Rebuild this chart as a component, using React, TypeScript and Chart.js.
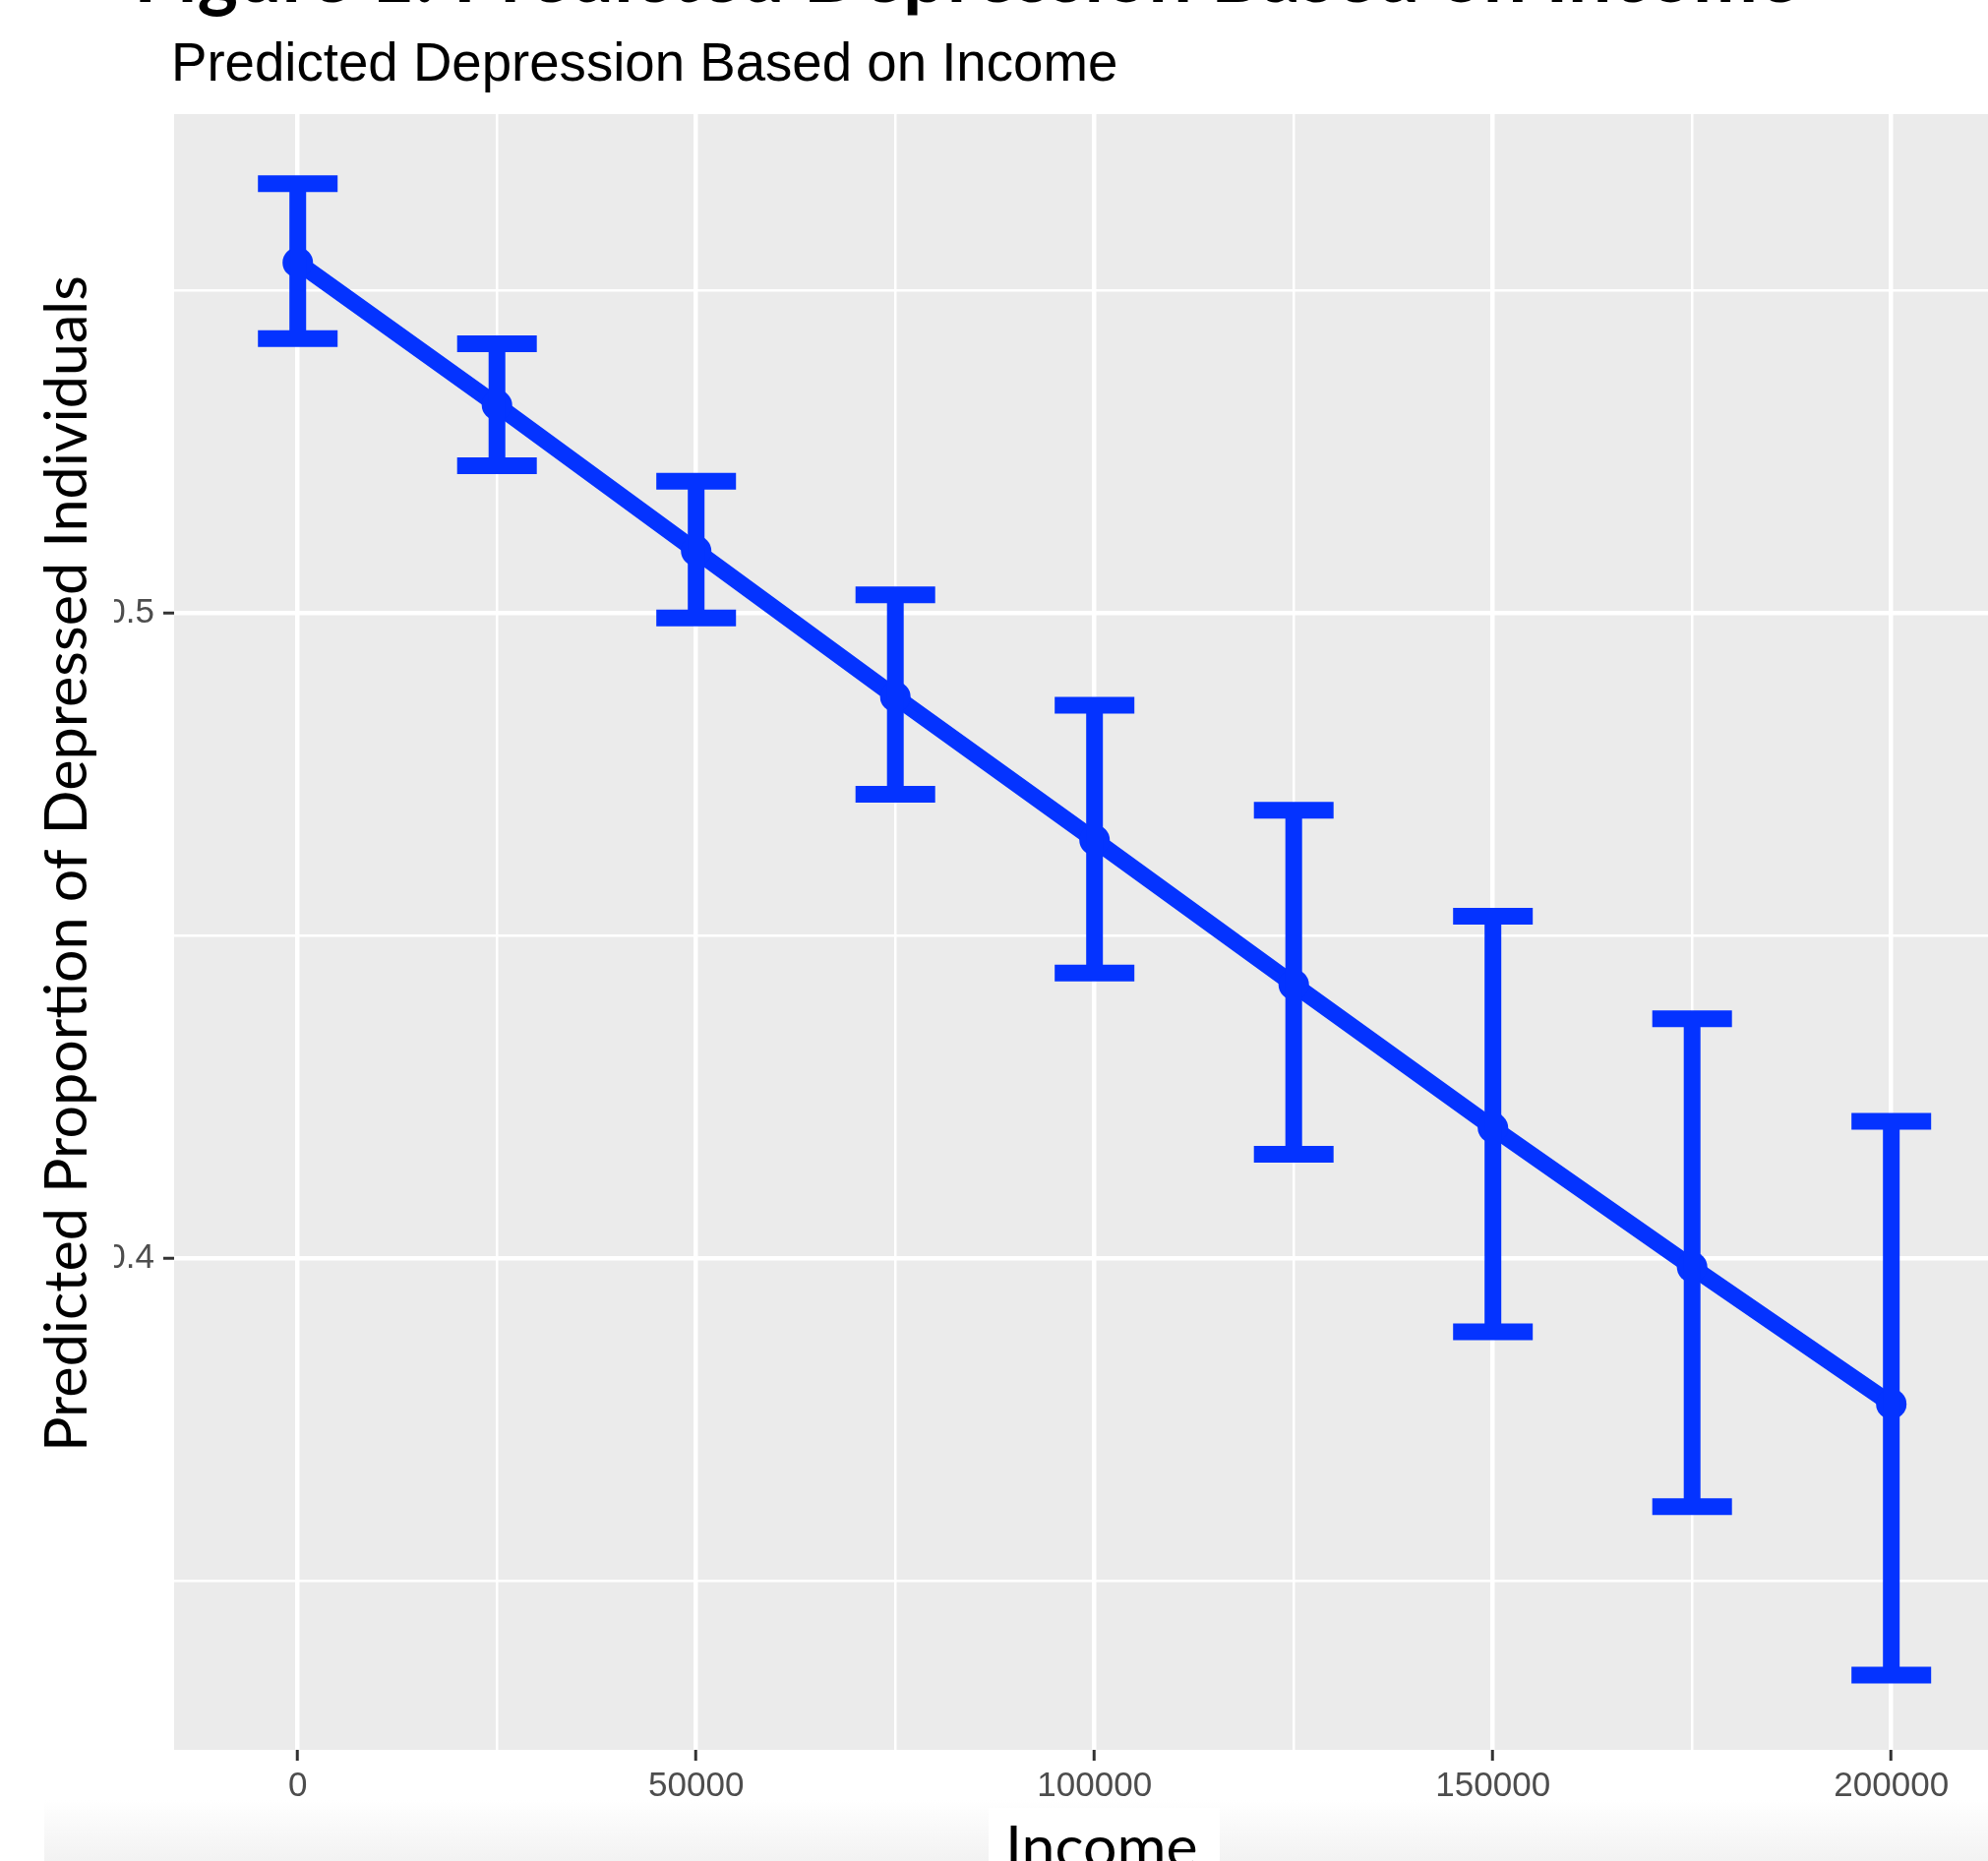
import React, { useEffect, useRef } from "react";
import { Chart, registerables } from "chart.js";

Chart.register(...registerables);

// ---- data ----
const INCOME = [0, 25000, 50000, 75000, 100000, 125000, 150000, 175000, 200000];
const PREDICTED = [0.5543, 0.5322, 0.5096, 0.487, 0.4648, 0.4424, 0.4202, 0.3986, 0.3774];
const UPPER = [0.5665, 0.5417, 0.5204, 0.5028, 0.4857, 0.4694, 0.453, 0.4371, 0.4212];
const LOWER = [0.5425, 0.5228, 0.4992, 0.4719, 0.4442, 0.4161, 0.3886, 0.3615, 0.3354];
const X_TICKS = [0, 25000, 50000, 75000, 100000, 125000, 150000, 175000, 200000];
const X_LABELED = [0, 50000, 100000, 150000, 200000];
const Y_TICKS = [0.35, 0.4, 0.45, 0.5, 0.55];
const Y_LABELED = [0.4, 0.5];

const TITLE = "Figure 1: Predicted Depression Based on Income";
const SUBTITLE = "Predicted Depression Based on Income";
const X_TITLE = "Income";
const Y_TITLE = "Predicted Proportion of Depressed Individuals";

// ---- styles ----
const W = 2021;
const H = 1892;
const BLUE = "#0433FF";
const PANEL = "#EBEBEB";
const CAP_HALF = 5000;
const X_MIN = -15520;
const X_MAX = 212136;
const Y_MIN = 0.3238;
const Y_MAX = 0.5773;
const CALIBRI_SUB = "Lato, Carlito, Calibri, 'Open Sans', sans-serif";
const ARIAL_SUB = "'Liberation Sans', Arial, Helvetica, sans-serif";

function fitSize(ctx: CanvasRenderingContext2D, text: string, weight: string, family: string, target: number) {
  ctx.textAlign = "left";
  ctx.font = `${weight} 100px ${family}`;
  const m = ctx.measureText(text);
  const w = m.actualBoundingBoxLeft + m.actualBoundingBoxRight;
  return (100 * target) / w;
}

const panelBg = {
  id: "panelBg",
  beforeDraw(chart: any) {
    const { ctx, chartArea } = chart;
    ctx.save();
    ctx.fillStyle = "#FFFFFF";
    ctx.fillRect(0, 0, chart.width, chart.height);
    ctx.fillStyle = PANEL;
    ctx.fillRect(chartArea.left, chartArea.top, chartArea.right - chartArea.left, chartArea.bottom - chartArea.top);
    ctx.restore();
  },
};

const errorBars = {
  id: "errorBars",
  afterDatasetsDraw(chart: any) {
    const { ctx } = chart;
    const x = chart.scales.x;
    const y = chart.scales.y;
    ctx.save();
    ctx.strokeStyle = BLUE;
    ctx.lineWidth = 17;
    ctx.lineCap = "butt";
    INCOME.forEach((inc, i) => {
      const px = x.getPixelForValue(inc);
      const l = x.getPixelForValue(inc - CAP_HALF);
      const r = x.getPixelForValue(inc + CAP_HALF);
      const yu = y.getPixelForValue(UPPER[i]);
      const yl = y.getPixelForValue(LOWER[i]);
      ctx.beginPath();
      ctx.moveTo(l, yu);
      ctx.lineTo(r, yu);
      ctx.moveTo(px, yu);
      ctx.lineTo(px, yl);
      ctx.moveTo(l, yl);
      ctx.lineTo(r, yl);
      ctx.stroke();
    });
    ctx.restore();
  },
};

const texts = {
  id: "texts",
  afterDraw(chart: any) {
    const { ctx, chartArea } = chart;
    ctx.save();
    // white box of the y title (covers part of the tick labels)
    ctx.fillStyle = "#FFFFFF";
    ctx.fillRect(0, chartArea.top, 116, chartArea.bottom - chartArea.top);

    // y title
    let s = fitSize(ctx, Y_TITLE, "400", CALIBRI_SUB, 1189);
    ctx.font = `400 ${s}px ${CALIBRI_SUB}`;
    let cap = ctx.measureText("P").actualBoundingBoxAscent;
    ctx.fillStyle = "#000000";
    ctx.translate(45 + cap, 878);
    ctx.rotate(-Math.PI / 2);
    ctx.textAlign = "center";
    ctx.textBaseline = "alphabetic";
    ctx.fillText(Y_TITLE, 0, 0);
    ctx.setTransform(1, 0, 0, 1, 0, 0);

    // bottom gradient strip
    const g = ctx.createLinearGradient(0, 1830, 0, H);
    g.addColorStop(0, "#FFFFFF");
    g.addColorStop(1, "#F2F2F2");
    ctx.fillStyle = g;
    ctx.fillRect(45, 1830, W - 45, H - 1830);
    ctx.fillStyle = "#FFFFFF";
    ctx.fillRect(1005, 1838, 235, H - 1838);

    // x title
    s = fitSize(ctx, X_TITLE, "400", CALIBRI_SUB, 188);
    ctx.font = `400 ${s}px ${CALIBRI_SUB}`;
    ctx.textAlign = "left";
    let m = ctx.measureText(X_TITLE);
    cap = ctx.measureText("I").actualBoundingBoxAscent;
    ctx.fillStyle = "#000000";
    ctx.fillText(X_TITLE, 1027 + m.actualBoundingBoxLeft, 1856 + cap);

    // subtitle
    s = fitSize(ctx, SUBTITLE, "400", ARIAL_SUB, 956);
    ctx.font = `400 ${s}px ${ARIAL_SUB}`;
    m = ctx.measureText(SUBTITLE);
    ctx.fillText(SUBTITLE, 178 + m.actualBoundingBoxLeft, 82);

    // title (cropped at the top)
    s = fitSize(ctx, TITLE, "700", CALIBRI_SUB, 1685);
    ctx.font = `700 ${s}px ${CALIBRI_SUB}`;
    m = ctx.measureText(TITLE);
    ctx.fillText(TITLE, 142 + m.actualBoundingBoxLeft, 2);
    ctx.restore();
  },
};

export default function App() {
  const ref = useRef<HTMLCanvasElement | null>(null);

  useEffect(() => {
    document.body.style.margin = "0";
    const canvas = ref.current;
    if (!canvas) return;
    const chart = new Chart(canvas, {
      type: "line",
      data: {
        datasets: [
          {
            data: INCOME.map((v, i) => ({ x: v, y: PREDICTED[i] })),
            borderColor: BLUE,
            backgroundColor: BLUE,
            borderWidth: 17,
            borderCapStyle: "butt",
            borderJoinStyle: "round",
            pointRadius: 15.5,
            pointBackgroundColor: BLUE,
            pointBorderWidth: 0,
            tension: 0,
            fill: false,
          } as any,
        ],
      },
      options: {
        responsive: false,
        animation: false,
        devicePixelRatio: 1,
        layout: { autoPadding: false, padding: { top: 116, left: 0, right: 0, bottom: 0 } },
        plugins: {
          legend: { display: false },
          tooltip: { enabled: false },
          title: { display: false },
        },
        scales: {
          x: {
            type: "linear",
            min: X_MIN,
            max: X_MAX,
            afterBuildTicks: (scale: any) => {
              scale.ticks = X_TICKS.map((v) => ({ value: v }));
            },
            afterFit: (scale: any) => {
              scale.height = H - 1779;
              scale.paddingLeft = 0;
              scale.paddingRight = 0;
            },
            border: { display: false },
            grid: {
              color: "#FFFFFF",
              lineWidth: (c: any) => (X_LABELED.includes(c.tick?.value) ? 4.5 : 2.5),
              drawTicks: true,
              tickLength: 11,
              tickWidth: 3,
              tickColor: (c: any) => (X_LABELED.includes(c.tick?.value) ? "#333333" : "rgba(0,0,0,0)"),
            },
            ticks: {
              autoSkip: false,
              maxRotation: 0,
              padding: 5,
              color: "#4D4D4D",
              font: { family: ARIAL_SUB, size: 35 },
              callback: (v: any) => (X_LABELED.includes(Number(v)) ? String(v) : ""),
            },
          },
          y: {
            type: "linear",
            min: Y_MIN,
            max: Y_MAX,
            afterBuildTicks: (scale: any) => {
              scale.ticks = Y_TICKS.map((v) => ({ value: v }));
            },
            afterFit: (scale: any) => {
              scale.width = 177;
              scale.paddingTop = 0;
              scale.paddingBottom = 0;
            },
            border: { display: false },
            grid: {
              color: "#FFFFFF",
              lineWidth: (c: any) => (Y_LABELED.includes(c.tick?.value) ? 4.5 : 2.5),
              drawTicks: true,
              tickLength: 11,
              tickWidth: 3,
              tickColor: (c: any) => (Y_LABELED.includes(c.tick?.value) ? "#333333" : "rgba(0,0,0,0)"),
            },
            ticks: {
              autoSkip: false,
              padding: 9,
              color: "#4D4D4D",
              font: { family: ARIAL_SUB, size: 35 },
              callback: (v: any) => (Y_LABELED.includes(Number(v)) ? String(v) : ""),
            },
          },
        },
      },
      plugins: [panelBg, errorBars, texts],
    });
    return () => chart.destroy();
  }, []);

  return (
    <canvas
      ref={ref}
      width={W}
      height={H}
      style={{ position: "absolute", left: 0, top: 0, width: W, height: H, display: "block" }}
    />
  );
}
